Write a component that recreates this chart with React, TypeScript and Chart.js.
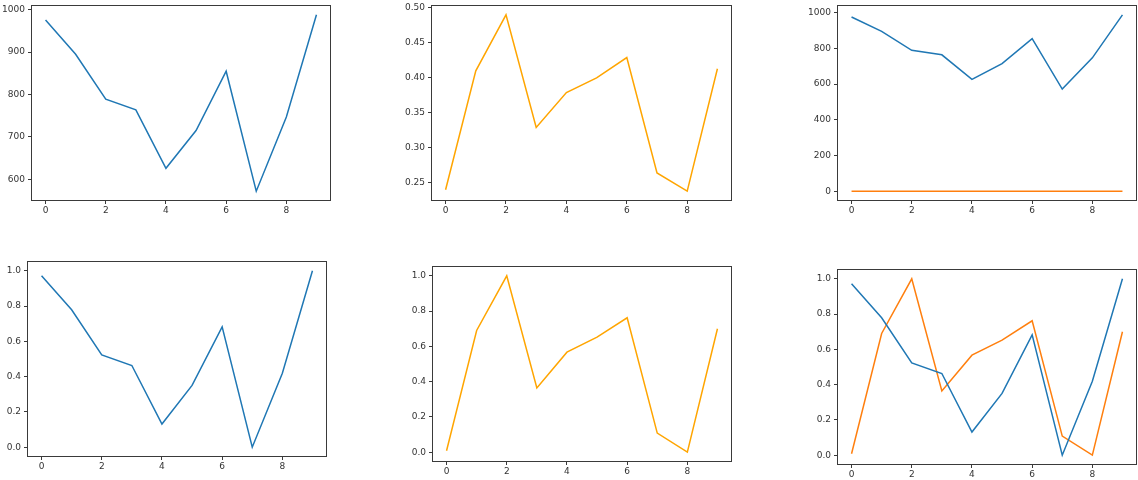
import React, { useEffect, useRef } from "react";
import { Chart, registerables } from "chart.js";

Chart.register(...registerables);

// ---- data ----
const xValues = [0, 1, 2, 3, 4, 5, 6, 7, 8, 9];
const xTicks = [0, 2, 4, 6, 8];
const seriesA = [976, 895, 789, 764, 626, 715, 855, 572, 747, 988];
const seriesB = [0.24, 0.41, 0.49, 0.329, 0.379, 0.4, 0.429, 0.264, 0.238, 0.413];
const seriesANorm = [0.972, 0.779, 0.523, 0.463, 0.131, 0.35, 0.682, 0.0, 0.419, 1.0];
const seriesBNorm = [0.008, 0.69, 1.0, 0.364, 0.567, 0.652, 0.762, 0.108, 0.0, 0.7];
const yTicksA = [600, 700, 800, 900, 1000];
const yTickLabelsA = ["600", "700", "800", "900", "1000"];
const yTicksB = [0.25, 0.3, 0.35, 0.4, 0.45, 0.5];
const yTickLabelsB = ["0.25", "0.30", "0.35", "0.40", "0.45", "0.50"];
const yTicksAB = [0, 200, 400, 600, 800, 1000];
const yTickLabelsAB = ["0", "200", "400", "600", "800", "1000"];
const yTicksNorm = [0, 0.2, 0.4, 0.6, 0.8, 1.0];
const yTickLabelsNorm = ["0.0", "0.2", "0.4", "0.6", "0.8", "1.0"];

const TAB_BLUE = "#1f77b4";
const TAB_ORANGE = "#ff7f0e";
const NAMED_ORANGE = "#ffa500";

type Series = { values: number[]; color: string };
type Panel = {
  box: { l: number; t: number; r: number; b: number };
  series: Series[];
  yTicks: number[];
  yLabels: string[];
};

const panels: Panel[] = [
  { box: { l: 32, t: 6, r: 330, b: 200 }, series: [{ values: seriesA, color: TAB_BLUE }], yTicks: yTicksA, yLabels: yTickLabelsA },
  { box: { l: 432, t: 6, r: 731, b: 200 }, series: [{ values: seriesB, color: NAMED_ORANGE }], yTicks: yTicksB, yLabels: yTickLabelsB },
  {
    box: { l: 838, t: 6, r: 1136, b: 200 },
    series: [
      { values: seriesA, color: TAB_BLUE },
      { values: seriesB, color: TAB_ORANGE },
    ],
    yTicks: yTicksAB,
    yLabels: yTickLabelsAB,
  },
  { box: { l: 28, t: 262, r: 326, b: 456 }, series: [{ values: seriesANorm, color: TAB_BLUE }], yTicks: yTicksNorm, yLabels: yTickLabelsNorm },
  { box: { l: 433, t: 267, r: 731, b: 461 }, series: [{ values: seriesBNorm, color: NAMED_ORANGE }], yTicks: yTicksNorm, yLabels: yTickLabelsNorm },
  {
    box: { l: 838, t: 270, r: 1136, b: 464 },
    series: [
      { values: seriesANorm, color: TAB_BLUE },
      { values: seriesBNorm, color: TAB_ORANGE },
    ],
    yTicks: yTicksNorm,
    yLabels: yTickLabelsNorm,
  },
];

const PAD_L = 44;
const PAD_T = 10;
const PAD_R = 10;
const PAD_B = 22;
const TEXT = "#333333";
const LINE = "#3a3a3a";
const FONT = { family: "'DejaVu Sans', sans-serif", size: 9 };

const boxPlugin = {
  id: "boxFrame",
  afterDraw(chart: any) {
    const { ctx, chartArea: a } = chart;
    ctx.save();
    ctx.strokeStyle = LINE;
    ctx.lineWidth = 1;
    ctx.strokeRect(Math.round(a.left) - 0.5, Math.round(a.top) - 0.5, Math.round(a.width) + 1, Math.round(a.height) + 1);
    ctx.restore();
  },
};

function PanelChart({ panel }: { panel: Panel }) {
  const ref = useRef<HTMLCanvasElement | null>(null);
  const { box } = panel;
  const w = box.r - box.l + PAD_L + PAD_R;
  const h = box.b - box.t + PAD_T + PAD_B;

  useEffect(() => {
    if (!ref.current) return;
    const all = panel.series.flatMap((s) => s.values);
    const dmin = Math.min(...all);
    const dmax = Math.max(...all);
    const m = (dmax - dmin) * 0.05;
    const xm = (xValues[xValues.length - 1] - xValues[0]) * 0.05;
    const chart = new Chart(ref.current, {
      type: "line",
      data: {
        datasets: panel.series.map((s) => ({
          data: s.values.map((v, i) => ({ x: xValues[i], y: v })),
          borderColor: s.color,
          backgroundColor: s.color,
          borderWidth: 1.5,
          pointRadius: 0,
          tension: 0,
          fill: false,
        })),
      },
      options: {
        responsive: false,
        maintainAspectRatio: false,
        animation: false,
        events: [],
        layout: { padding: { left: 4, top: PAD_T, right: PAD_R, bottom: 2 } },
        plugins: { legend: { display: false }, tooltip: { enabled: false } },
        scales: {
          x: {
            type: "linear",
            min: xValues[0] - xm,
            max: xValues[xValues.length - 1] + xm,
            afterBuildTicks: (s: any) => {
              s.ticks = xTicks.map((v) => ({ value: v }));
            },
            afterFit: (s: any) => {
              s.height = 20;
            },
            grid: { drawOnChartArea: false, drawTicks: true, tickLength: 4, color: LINE },
            border: { display: false },
            ticks: { padding: 1, color: TEXT, font: FONT, maxRotation: 0, autoSkip: false, callback: (v: any) => String(v) },
          },
          y: {
            type: "linear",
            min: dmin - m,
            max: dmax + m,
            afterBuildTicks: (s: any) => {
              s.ticks = panel.yTicks.map((v) => ({ value: v }));
            },
            afterFit: (s: any) => {
              s.width = 40;
            },
            grid: { drawOnChartArea: false, drawTicks: true, tickLength: 4, color: LINE },
            border: { display: false },
            ticks: {
              padding: 3,
              color: TEXT,
              font: FONT,
              autoSkip: false,
              callback: (v: any) => {
                const idx = panel.yTicks.findIndex((t) => Math.abs(t - v) < 1e-9);
                return idx >= 0 ? panel.yLabels[idx] : "";
              },
            },
          },
        },
      },
      plugins: [boxPlugin],
    } as any);
    return () => chart.destroy();
  }, [panel]);

  return (
    <canvas
      ref={ref}
      width={w}
      height={h}
      style={{ position: "absolute", left: box.l - PAD_L, top: box.t - PAD_T, width: w, height: h }}
    />
  );
}

export default function App() {
  return (
    <div style={{ position: "fixed", left: 0, top: 0, width: 1138, height: 480, background: "#ffffff", overflow: "hidden" }}>
      {panels.map((p, i) => (
        <PanelChart key={i} panel={p} />
      ))}
    </div>
  );
}
